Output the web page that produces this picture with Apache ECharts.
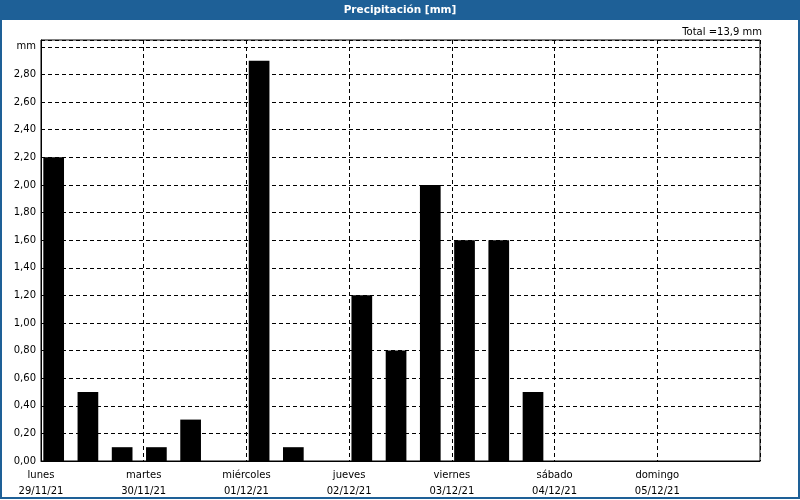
<!DOCTYPE html>
<html>
<head>
<meta charset="utf-8">
<script src="https://cdn.jsdelivr.net/npm/echarts@6/dist/echarts.min.js"></script>
<style>
html,body{margin:0;padding:0;background:#fff;}
#c{width:800px;height:500px;}
</style>
</head>
<body>
<div id="c"></div>
<script>
// 8-hour slots, 3 per day
const slots = [
  '29/11 00h','29/11 08h','29/11 16h',
  '30/11 00h','30/11 08h','30/11 16h',
  '01/12 00h','01/12 08h','01/12 16h',
  '02/12 00h','02/12 08h','02/12 16h',
  '03/12 00h','03/12 08h','03/12 16h',
  '04/12 00h','04/12 08h','04/12 16h',
  '05/12 00h','05/12 08h','05/12 16h'
];
const precip = [
  2.2, 0.5, 0.1,
  0.1, 0.3, 0,
  2.9, 0.1, 0,
  1.2, 0.8, 2.0,
  1.6, 1.6, 0.5,
  0, 0, 0,
  0, 0, 0
];
const dayNames = ['lunes','martes','miércoles','jueves','viernes','sábado','domingo'];
const dayDates = ['29/11/21','30/11/21','01/12/21','02/12/21','03/12/21','04/12/21','05/12/21'];
const yTicks = [0,0.2,0.4,0.6,0.8,1.0,1.2,1.4,1.6,1.8,2.0,2.2,2.4,2.6,2.8,3.0];
const titleText = 'Precipitación [mm]';
const totalText = 'Total =13,9 mm';

const FONT = 'DejaVu Sans';
const chart = echarts.init(document.getElementById('c'), null, {renderer:'canvas'});
const dash = [4,3];
chart.setOption({
  animation:false,
  backgroundColor:'#ffffff',
  textStyle:{fontFamily:FONT},
  graphic:[
    {type:'rect', shape:{x:0,y:0,width:800,height:20}, style:{fill:'#1e6097'}, silent:true, z:-1},
    {type:'rect', shape:{x:1,y:1,width:798,height:497}, style:{fill:null, stroke:'#1e6097', lineWidth:2}, silent:true, z:-1},
    {type:'text', x:400, y:10, style:{text:titleText, fill:'#ffffff', font:'bold 10.5px "DejaVu Sans"', textAlign:'center', textVerticalAlign:'middle'}},
    {type:'text', x:762, y:32, style:{text:totalText, fill:'#000', font:'10px "DejaVu Sans"', textAlign:'right', textVerticalAlign:'middle'}}
  ],
  grid:{left:41, right:40, top:40, bottom:39, show:true, borderColor:'#000', borderWidth:1, backgroundColor:'transparent'},
  xAxis:[
    {type:'category', data:slots, show:false, boundaryGap:true},
    {type:'value', min:0, max:7, interval:1, position:'bottom',
     axisLine:{show:true, lineStyle:{color:'#000', width:1}},
     axisTick:{show:false},
     splitLine:{show:true, lineStyle:{color:'#000', type:dash, width:1}},
     axisLabel:{showMaxLabel:false, color:'#000', fontSize:10, fontFamily:FONT, lineHeight:16, margin:6,
       formatter:function(v){const i=Math.round(v); return i<7 ? dayNames[i]+'\n'+dayDates[i] : '';}}
    }
  ],
  yAxis:{type:'value', min:0, max:3.05, interval:0.2,
    axisLine:{show:true, lineStyle:{color:'#000', width:1}},
    axisTick:{show:false},
    splitLine:{show:true, lineStyle:{color:'#000', type:dash, width:1}},
    axisLabel:{showMaxLabel:false, color:'#000', fontSize:10, fontFamily:FONT, margin:5,
      formatter:function(v){ if(Math.abs(v-3)<1e-6) return 'mm'; return v.toFixed(2).replace('.',','); }}
  },
  series:[
    {type:'bar', xAxisIndex:0, data:precip, barWidth:20.7, barGap:'0%', itemStyle:{color:'#000'}, z:3},
    {type:'bar', xAxisIndex:0, data:precip.map(()=>null), barWidth:8.9, itemStyle:{color:'transparent'}}
  ]
});
</script>
</body>
</html>
